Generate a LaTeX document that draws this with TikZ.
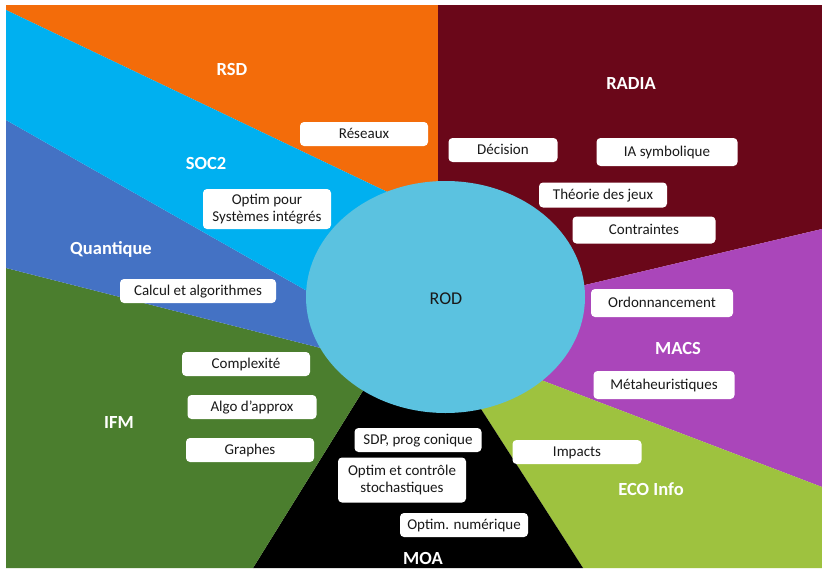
\documentclass[tikz,border=0pt]{standalone}
\usepackage{fontspec}
\setmainfont{Carlito}
\definecolor{cOrange}{HTML}{F36C0A}
\definecolor{cMaroon}{HTML}{6A0719}
\definecolor{cCyan}{HTML}{00B0F0}
\definecolor{cBlue}{HTML}{4472C4}
\definecolor{cGreen}{HTML}{4B7E2E}
\definecolor{cEco}{HTML}{9EC23F}
\definecolor{cPurple}{HTML}{AA46BA}
\definecolor{cEll}{HTML}{5BC2E0}
\tikzset{
  box/.style={fill=white, rounded corners=4pt, inner sep=0pt, minimum height=24pt,
    align=center, font=\fontsize{15}{17.5}\selectfont, text=black!90,
    text height=10.5pt, text depth=2.5pt},
  lab/.style={text=white, font=\fontsize{18.5}{20}\selectfont\bfseries, inner sep=0pt}
}
\begin{document}
\begin{tikzpicture}[x=1pt,y=-1pt]
\useasboundingbox (0,0) rectangle (822,570);
\fill[white] (0,0) rectangle (822,570);
% centre and boundary points
\coordinate (C) at (445,297);
\coordinate (b1o) at (438,5);   \coordinate (b1i) at (438,250);
\coordinate (b2o) at (6,10);    \coordinate (b2i) at (400,198);
\coordinate (b3o) at (6,120);   \coordinate (b3i) at (360,321);
\coordinate (b4o) at (6,268);   \coordinate (b4i) at (360,358);
\coordinate (b5o) at (253,568); \coordinate (b5i) at (382,360);
\coordinate (b6o) at (583,568); \coordinate (b6i) at (456,370);
\coordinate (b7o) at (822,487); \coordinate (b7i) at (520,372);
\coordinate (b8o) at (822,229); \coordinate (b8i) at (530,298);
% sectors
\fill[cOrange] (C) -- (b1i) -- (b1o) -- (6,5) -- (b2o) -- (b2i) -- cycle;
\fill[cMaroon] (C) -- (b1i) -- (b1o) -- (822,5) -- (b8o) -- (b8i) -- cycle;
\fill[cPurple] (C) -- (b8i) -- (b8o) -- (b7o) -- (b7i) -- cycle;
\fill[cEco] (C) -- (b7i) -- (b7o) -- (822,568) -- (b6o) -- (b6i) -- cycle;
\fill[black] (C) -- (b6i) -- (b6o) -- (b5o) -- (b5i) -- cycle;
\fill[cGreen] (C) -- (b5i) -- (b5o) -- (6,568) -- (b4o) -- (b4i) -- cycle;
\fill[cBlue] (C) -- (b4i) -- (b4o) -- (b3o) -- (b3i) -- cycle;
\fill[cCyan] (C) -- (b3i) -- (b3o) -- (b2o) -- (b2i) -- cycle;
% central ellipse
\fill[cEll] (445.5,297) ellipse [x radius=139.5, y radius=116];
\node[font=\fontsize{18}{20}\selectfont, text=black!90] (rod) at (446,299) {ROD};
% sector labels
\node[lab] (rsd) at (232,69) {RSD};
\node[lab] (soc) at (206,163) {SOC2};
\node[lab] (qua) at (111,249) {Quantique};
\node[lab] (radia) at (631,84) {RADIA};
\node[lab] (macs) at (678,348) {MACS};
\node[lab] (eco) at (651,489) {ECO Info};
\node[lab] (moa) at (423,558) {MOA};
\node[lab] (ifm) at (119,422) {IFM};
% boxes
\node[box, minimum width=128pt] (res) at (364,134) {Réseaux};
\node[box, minimum width=109pt] (dec) at (503,150) {Décision};
\node[box, minimum width=141pt, minimum height=28pt] (ia) at (667,152) {IA symbolique};
\node[box, minimum width=128pt, minimum height=25pt] (thj) at (603,195) {Théorie des jeux};
\node[box, minimum width=143pt, minimum height=27pt] (con) at (644,230) {Contraintes};
\node[box, minimum width=142pt, minimum height=28pt] (ord) at (662,303) {Ordonnancement};
\node[box, minimum width=141pt, minimum height=28pt] (meta) at (664,385) {Métaheuristiques};
\node[box, minimum width=129pt] (imp) at (577,452) {Impacts};
\node[box, minimum width=128pt] (num) at (464,525) {Optim. numérique};
\node[box, minimum width=127pt] (sdp) at (418,440) {SDP, prog conique};
\node[box, minimum width=128pt, minimum height=45pt, text height=, text depth=] (sto) at (402,480) {Optim et contrôle\\stochastiques};
\node[box, minimum width=129pt] (alg) at (252,407) {Algo d’approx};
\node[box, minimum width=128pt] (gra) at (250,450) {Graphes};
\node[box, minimum width=128pt] (cpx) at (246,364) {Complexité};
\node[box, minimum width=156pt] (cal) at (198,291) {Calcul et algorithmes};
\node[box, minimum width=128pt, minimum height=40pt, text height=, text depth=] (sys) at (267,209) {Optim pour\\Systèmes intégrés};
\end{tikzpicture}
\end{document}
